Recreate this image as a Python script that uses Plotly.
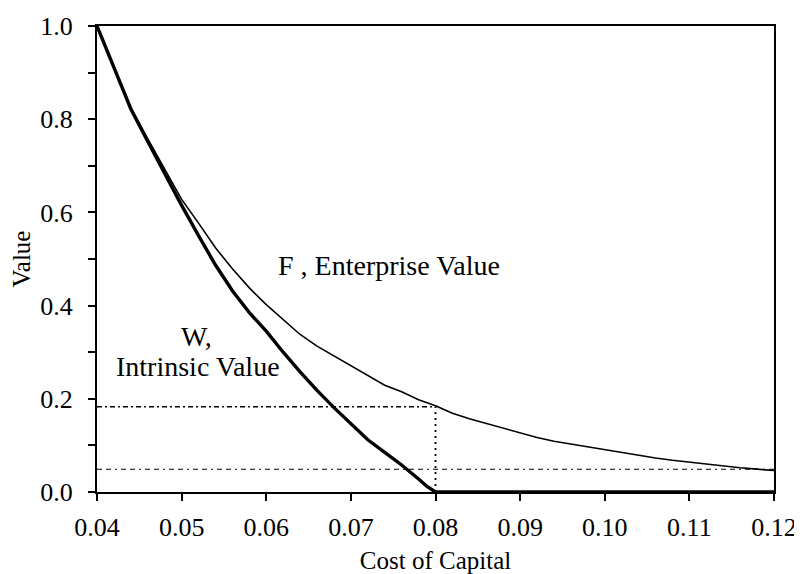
import plotly.graph_objects as go

# Cost of capital grid and curve values
w_x = [0.040, 0.042, 0.044, 0.046, 0.048, 0.050, 0.052, 0.054, 0.056, 0.058,
       0.060, 0.062, 0.064, 0.066, 0.068, 0.070, 0.072, 0.074, 0.076, 0.078,
       0.079, 0.080, 0.120]
w_val = [1.000, 0.910, 0.822, 0.752, 0.682, 0.615, 0.550, 0.487, 0.432, 0.385,
         0.345, 0.300, 0.258, 0.218, 0.181, 0.146, 0.112, 0.085, 0.058, 0.028,
         0.012, 0.000, 0.000]

f_x = [0.040, 0.042, 0.044, 0.046, 0.048, 0.050, 0.052, 0.054, 0.056, 0.058,
       0.060, 0.062, 0.064, 0.066, 0.068, 0.070, 0.072, 0.074, 0.076, 0.078,
       0.080, 0.082, 0.084, 0.086, 0.088, 0.090, 0.092, 0.094, 0.096, 0.098,
       0.100, 0.102, 0.104, 0.106, 0.108, 0.110, 0.112, 0.114, 0.116, 0.118,
       0.120]
f_val = [1.000, 0.912, 0.825, 0.758, 0.692, 0.628, 0.577, 0.524, 0.479, 0.438,
         0.402, 0.370, 0.338, 0.313, 0.292, 0.271, 0.250, 0.229, 0.215, 0.198,
         0.185, 0.169, 0.157, 0.147, 0.136, 0.126, 0.117, 0.109, 0.103, 0.097,
         0.090, 0.084, 0.078, 0.073, 0.068, 0.064, 0.060, 0.055, 0.052, 0.049,
         0.046]

# Reference lines
k_star = 0.08
f_at_k = 0.183
f_at_end = 0.0487
x_min, x_max = 0.04, 0.12

x_ticks = [0.04, 0.05, 0.06, 0.07, 0.08, 0.09, 0.10, 0.11, 0.12]
x_ticklabels = ["0.04", "0.05", "0.06", "0.07", "0.08", "0.09", "0.10", "0.11", "0.12"]
y_ticks = [0.0, 0.2, 0.4, 0.6, 0.8, 1.0]
y_ticklabels = ["0.0", "0.2", "0.4", "0.6", "0.8", "1.0"]

FONT = "Liberation Serif"
TICK_SIZE = 26
TITLE_SIZE = 25
NOTE_SIZE = 28

fig = go.Figure()

fig.add_trace(go.Scatter(x=[x_min, k_star], y=[f_at_k, f_at_k], mode="lines",
                         line=dict(color="black", width=1.6, dash="5px,3px,2px,3px"),
                         showlegend=False, hoverinfo="skip"))
fig.add_trace(go.Scatter(x=[k_star, k_star], y=[0, f_at_k], mode="lines",
                         line=dict(color="black", width=1.8, dash="2px,4px"),
                         showlegend=False, hoverinfo="skip"))
fig.add_trace(go.Scatter(x=[x_min, x_max], y=[f_at_end, f_at_end], mode="lines",
                         line=dict(color="black", width=1.1, dash="5px,4px,5px,4px,2px,4px"),
                         showlegend=False, hoverinfo="skip"))

fig.add_trace(go.Scatter(x=f_x, y=f_val, mode="lines", name="F",
                         line=dict(color="black", width=1.6), showlegend=False))
fig.add_trace(go.Scatter(x=w_x, y=w_val, mode="lines", name="W",
                         line=dict(color="black", width=3.4), showlegend=False))

fig.add_annotation(x=0.0745, y=0.487, text="F , Enterprise Value", showarrow=False,
                   font=dict(family=FONT, size=NOTE_SIZE, color="black"))
fig.add_annotation(x=0.0517, y=0.333, text="W,", showarrow=False,
                   font=dict(family=FONT, size=NOTE_SIZE, color="black"))
fig.add_annotation(x=0.0519, y=0.27, text="Intrinsic Value", showarrow=False,
                   font=dict(family=FONT, size=NOTE_SIZE, color="black"))

# the page body adds an 8px offset; figure is sized to fit the window
fig.update_layout(
    width=794, height=566,
    margin=dict(l=89, r=28, t=18, b=82, autoexpand=False),
    paper_bgcolor="white", plot_bgcolor="white",
    font=dict(family=FONT, size=TICK_SIZE, color="black"),
    xaxis=dict(range=[x_min, x_max], tickvals=x_ticks, ticktext=x_ticklabels,
               automargin=False, ticklabelstandoff=4,
               showgrid=False, zeroline=False, showline=True, linecolor="black",
               linewidth=2, mirror=True, ticks="outside", ticklen=7, tickwidth=2,
               tickcolor="black", tickfont=dict(size=TICK_SIZE),
               title=dict(text="Cost of Capital", standoff=20, font=dict(size=TITLE_SIZE))),
    yaxis=dict(range=[0, 1], tickvals=y_ticks, ticktext=y_ticklabels,
               automargin=False, ticklabelstandoff=10,
               showgrid=False, zeroline=False, showline=True, linecolor="black",
               linewidth=2, mirror=True, ticks="outside", ticklen=7, tickwidth=2,
               tickcolor="black", tickfont=dict(size=TICK_SIZE),
               minor=dict(dtick=0.1, ticks="outside", ticklen=7, tickwidth=2,
                          tickcolor="black", showgrid=False),
               title=dict(text="Value", standoff=10, font=dict(size=TITLE_SIZE))),
)

fig.write_html("out.html")
